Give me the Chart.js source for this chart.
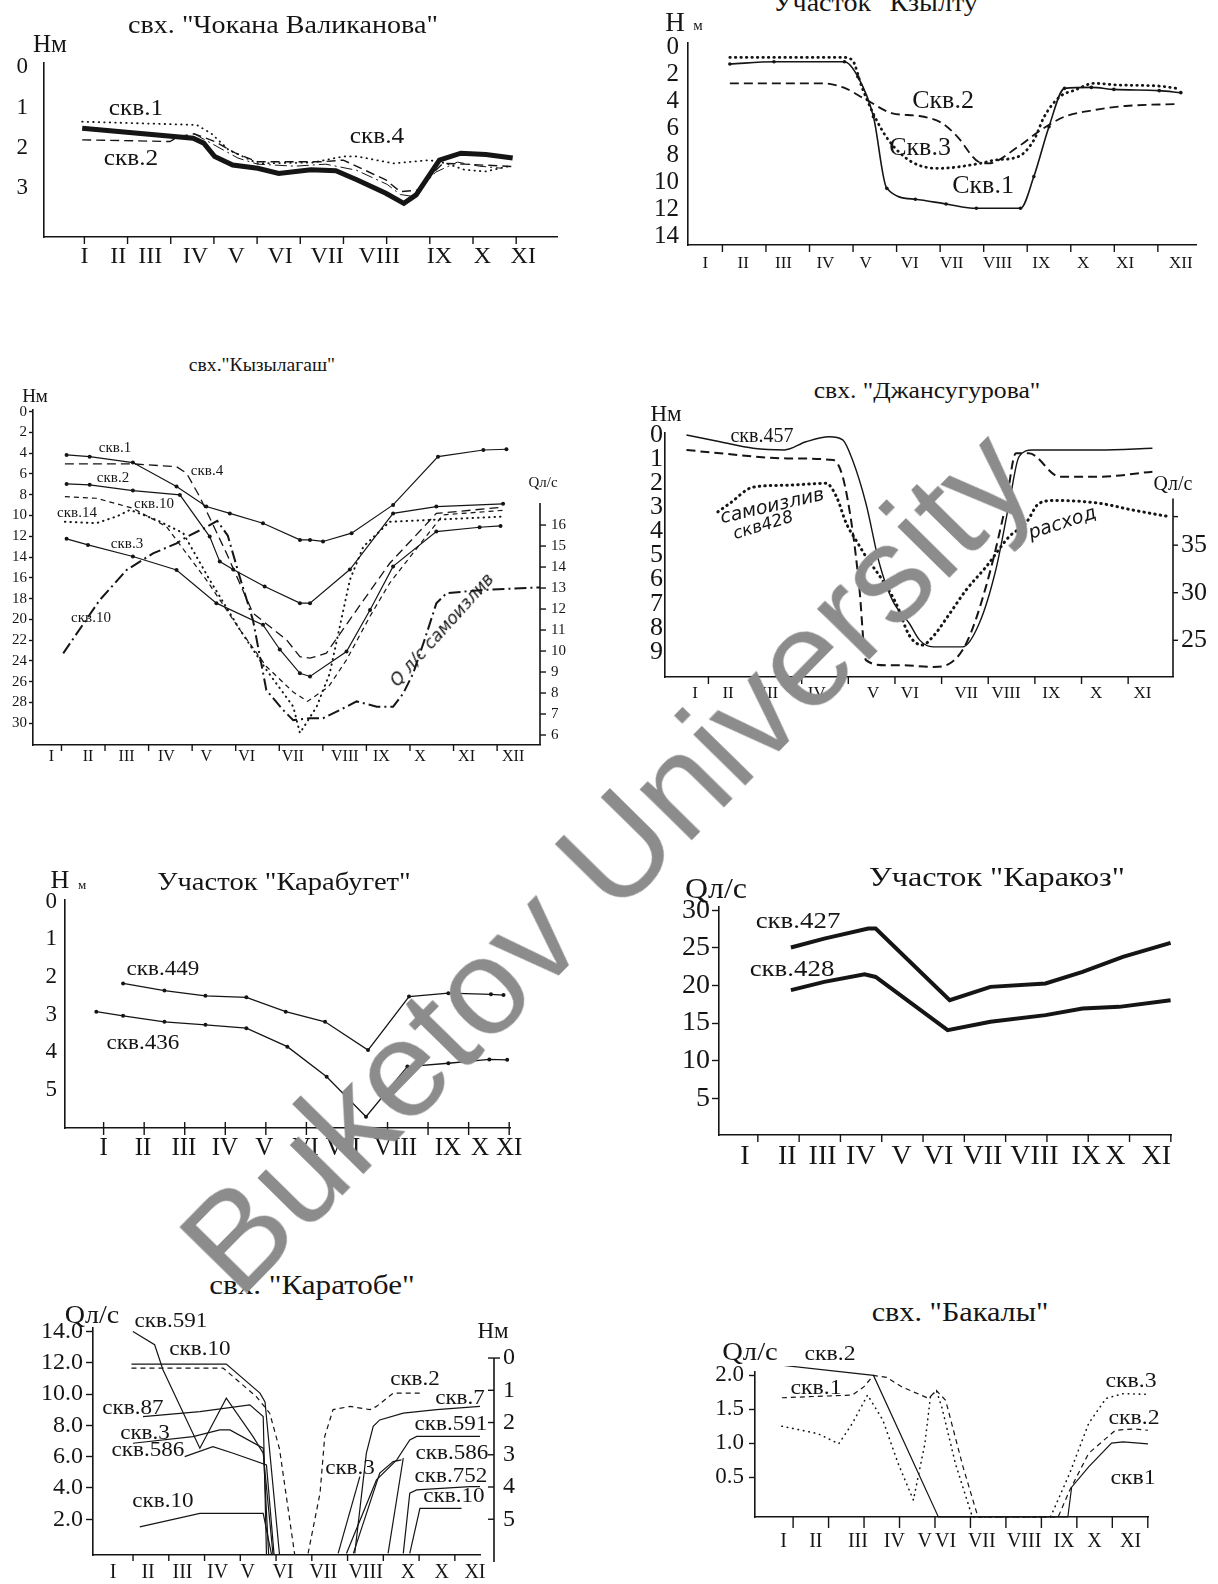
<!DOCTYPE html>
<html><head><meta charset="utf-8">
<script src="https://cdn.jsdelivr.net/npm/chart.js@4"></script>
<style>
html,body{margin:0;padding:0;background:#fff;}
#page{position:relative;width:1218px;height:1584px;overflow:hidden;font-family:"Liberation Serif","Times New Roman",serif;color:#151515;background:#fff;}
canvas{position:absolute;}
.t{position:absolute;white-space:nowrap;line-height:1;}
</style></head>
<body><div id="page"></div>
<script>
// ---------------- DATA ----------------
// Panel 1: свх. "Чокана Валиканова" (depth H, m)
const p1Months = ['I','II','III','IV','V','VI','VII','VIII','IX','X','XI'];
const p1YTicks = [0,1,2,3];
const p1ThickX = [0.95,3.48,3.72,3.97,4.38,4.95,5.43,6.16,6.73,7.22,7.87,8.28,8.56,9.09,9.58,10.15,10.76];
const p1ThickY = [1.51,1.76,1.88,2.21,2.42,2.5,2.63,2.54,2.56,2.79,3.12,3.37,3.16,2.3,2.13,2.16,2.25];
const p1Skv1X = [0.95,3.56,3.89,4.29,4.95,6.2,6.9,7.22,8.04,8.85,9.25,9.66,10.15,10.64];
const p1Skv1Y = [1.35,1.43,1.64,2.05,2.38,2.36,2.21,2.21,2.38,2.3,2.38,2.54,2.58,2.46];
const p1Skv2X = [0.95,2.95,3.15,3.5,3.97,4.45,4.95,6.41,6.9,7.22,7.87,8.2,8.6,8.93,9.17,9.66,10.8];
const p1Skv2Y = [1.8,1.84,1.72,1.65,1.84,2.13,2.34,2.34,2.3,2.46,2.79,3.08,3.04,2.63,2.38,2.4,2.46];
const p1Skv4X = [3.5,4.0,4.5,4.95,5.8,6.5,7.2,7.9,8.2,8.5,9.0,9.5,10.0,10.5];
const p1Skv4Y = [1.65,1.95,2.25,2.4,2.45,2.4,2.55,2.9,3.15,3.2,2.6,2.35,2.45,2.5];

// Panel 2: Участок "Кзылту"
const p2Months = ['I','II','III','IV','V','VI','VII','VIII','IX','X','XI','XII'];
const p2YTicks = [0,2,4,6,8,10,12,14];
const p2Skv1X = [1.57,2.59,4.22,4.53,4.89,5.2,5.86,6.57,7.27,8.29,8.6,8.95,9.31,9.93,10.45,11.5,12.0];
const p2Skv1Y = [1.26,1.09,1.09,2.2,5.16,10.47,11.28,11.63,11.95,11.95,9.6,5.9,3.06,2.99,3.14,3.23,3.38];
const p2Skv3X = [1.57,4.19,4.4,4.62,4.89,5.24,5.77,6.39,7.36,7.71,8.24,8.6,8.84,9.2,9.55,9.99,10.53,11.5,11.9];
const p2Skv3Y = [0.77,0.77,0.96,2.94,4.96,6.9,8.5,8.99,8.62,8.37,8.12,6.9,5.16,3.68,3.19,2.69,2.81,2.89,3.06];
const p2Skv2X = [1.57,3.74,4.19,4.71,5.33,5.95,6.48,6.83,7.32,7.54,8.24,8.76,9.31,9.99,10.72,11.9];
const p2Skv2Y = [2.69,2.69,2.99,3.88,4.91,5.11,5.65,6.64,8.5,8.62,7.38,6.15,5.16,4.67,4.37,4.22];

// Panel 3: свх. "Кызылагаш"
const p3Months = ['I','II','III','IV','V','VI','VII','VIII','IX','X','XI','XII'];
const p3YTicks = [0,2,4,6,8,10,12,14,16,18,20,22,24,26,28,30];
const p3QTicks = [6,7,8,9,10,11,12,13,14,15,16];
const p3Skv1X = [1.36,1.91,2.94,3.98,4.69,5.25,6.04,6.92,7.16,7.47,8.15,9.14,10.21,11.29,11.84];
const p3Skv1Y = [4.17,4.33,4.9,7.2,9.14,9.8,10.74,12.35,12.35,12.5,11.7,8.98,4.33,3.69,3.62];
const p3Skv2X = [1.36,1.91,2.94,4.06,4.77,5.01,5.33,6.08,6.92,7.16,8.11,9.14,10.17,11.76];
const p3Skv2Y = [6.96,7.05,7.6,8.02,12.03,14.44,15.2,16.84,18.44,18.44,15.2,9.8,9.14,8.88];
const p3Skv3X = [1.36,1.87,2.94,3.98,4.93,6.04,6.44,6.92,7.16,8.03,8.59,9.14,10.17,11.2,11.7];
const p3Skv3Y = [12.25,12.83,13.95,15.24,18.44,20.53,22.9,25.2,25.5,23.1,19.1,14.9,11.55,11.13,11.0];
const p3Skv4X = [1.32,2.94,3.98,4.22,4.53,5.17,5.8,6.6,6.92,7.16,7.55,8.27,9.06,10.17,11.76];
const p3Skv4Y = [5.03,5.03,5.3,5.93,8.18,13.63,19.4,21.97,23.6,23.74,23.26,19.1,14.6,9.8,9.2];
const p3Skv10X = [1.32,2.07,2.94,3.74,4.69,5.49,6.12,6.76,7.1,7.6,8.03,8.59,9.06,9.86,10.33,11.76];
const p3Skv10Y = [8.18,8.34,9.3,11.07,16.2,21.0,24.54,27.0,27.9,26.5,23.9,19.7,16.5,12.35,9.94,9.5];
const p3Skv14X = [1.32,2.07,2.55,2.87,3.5,4.14,4.77,5.49,6.12,6.76,6.92,7.32,7.63,7.87,8.11,8.43,9.06,10.01,11.76];
const p3Skv14Y = [10.6,10.74,10.1,9.46,10.42,11.7,16.2,21,24.86,28.4,30.95,28.4,25.2,20.7,16.2,13,10.6,10.42,10.1];
const p3QX = [1.28,2.15,2.79,3.42,3.98,4.22,4.69,4.95,5.2,5.49,5.8,6.12,6.52,6.76,7.16,7.47,8.03,8.27,8.75,9.14,9.38,9.62,9.94,10.17,10.41,11.2,12.64];
const p3QY = [9.89,12.43,13.86,14.65,15.13,15.44,15.9,16.2,15.5,13.5,11.48,8.14,7.19,6.71,6.8,6.8,7.35,7.6,7.35,7.35,7.98,8.94,10.84,12.27,12.75,12.9,13.03];

// Panel 4: свх. "Джансугурова"
const p4Months = ['I','II','III','IV','V','VI','VII','VIII','IX','X','XI'];
const p4YTicks = [0,1,2,3,4,5,6,7,8,9];
const p4QTicks = [25,30,35,38];
const p4Skv457X = [0.81,1.56,2.3,3.0,3.48,4.0,4.3,4.52,4.82,5.12,5.41,5.79,6.02,6.32,6.98,7.35,7.72,8.02,8.24,8.54,10.03,11.22];
const p4Skv457Y = [0,0.28,0.55,0.62,0.28,0.07,0.2,1.04,2.84,5.33,6.85,7.82,8.51,8.79,8.79,7.82,5.6,2.84,0.9,0.62,0.62,0.55];
const p4DashX = [0.81,1.56,3.05,4.09,4.3,4.52,4.67,4.82,5.27,5.58,6.32,6.69,7.06,7.5,7.95,8.17,8.46,9.15,10.04,11.22];
const p4DashY = [0.62,0.76,0.97,1.04,1.73,3.95,6.3,9.34,9.55,9.55,9.62,9.48,8.65,6.3,2.84,0.76,0.76,1.73,1.73,1.52];
const p4FlowX = [1.51,1.78,2.3,3.05,3.93,4.16,4.38,4.6,4.82,5.19,5.49,5.79,6.08,6.31,6.69,7.06,7.5,8.02,8.39,8.69,9.06,10.04,10.77,11.59];
const p4FlowY = [38.5,39.4,41.1,41.3,41.5,40.1,37.3,35.5,33.8,31.3,28.9,25.5,24.5,25.35,27.8,30.3,32.7,35.9,37.3,39.4,39.7,39.4,38.7,38.0];

// Panel 5: Участок "Карабугет"
const p5Months = ['I','II','III','IV','V','VI','VII','VIII','IX','X','XI'];
const p5YTicks = [0,1,2,3,4,5];
const p5Skv449X = [1.48,2.5,3.51,4.52,5.49,6.46,7.52,8.53,9.5,10.55,10.86];
const p5Skv449Y = [2.17,2.36,2.5,2.54,2.92,3.19,3.94,2.52,2.43,2.46,2.48];
const p5Skv436X = [0.82,1.48,2.5,3.51,4.52,5.53,6.5,7.47,8.49,9.5,10.51,10.95];
const p5Skv436Y = [2.92,3.03,3.19,3.27,3.36,3.85,4.65,5.71,4.38,4.29,4.19,4.2];

// Panel 6: Участок "Каракоз" (Q, л/с)
const p6Months = ['I','II','III','IV','V','VI','VII','VIII','IX','X','XI'];
const p6YTicks = [5,10,15,20,25,30];
const p6Skv427X = [2.12,2.93,4.0,4.18,5.98,6.97,8.31,9.21,10.19,11.35];
const p6Skv427Y = [25.05,26.24,27.57,27.57,18.05,19.82,20.27,21.8,23.8,25.66];
const p6Skv428X = [2.12,2.93,3.91,4.18,5.93,6.97,8.31,9.21,10.1,11.35];
const p6Skv428Y = [19.38,20.48,21.5,21.14,14.06,15.17,16.06,16.94,17.16,18.05];

// Panel 7: свх. "Каратобе" (Q left, H right)
const p7Months = ['I','II','III','IV','V','VI','VII','VIII','X','X','XI'];
const p7QTicks = [2,4,6,8,10,12,14];
const p7HTicks = [0,1,2,3,4,5];
const p7Q591X = [1.55,2.15,2.38,3.4,4.13,4.87,5.15,5.42];
const p7Q591Y = [14.0,13.15,11.55,6.54,9.74,7.28,6.22,-0.25];
const p7Q10aX = [1.51,4.13,5.06,5.2,5.6];
const p7Q10aY = [11.91,11.91,10.06,9.5,-0.25];
const p7Q10bX = [1.51,4.04,4.96,5.33,5.6,6.02];
const p7Q10bY = [11.66,11.66,9.84,8.78,6.5,-0.25];
const p7Q87X = [1.83,3.4,4.78,5.15,5.24];
const p7Q87Y = [8.56,8.88,9.31,8.56,-0.25];
const p7Q3X = [1.55,3.21,3.95,4.23,5.15,5.3];
const p7Q3Y = [6.86,7.28,7.71,7.71,6.54,-0.25];
const p7Q586X = [2.98,3.76,4.32,5.24,5.45];
const p7Q586Y = [6.0,6.64,6.22,5.47,-0.25];
const p7Q10cX = [1.74,3.4,5.15,5.38];
const p7Q10cY = [1.52,2.38,2.38,-0.25];
const p7H2X = [6.39,6.72,6.85,7.08,7.55,8.1,8.28,8.74,9.57];
const p7H2Y = [6.06,4.19,2.43,1.6,1.5,1.6,1.5,1.09,1.09];
const p7H7X = [7.68,8.0,8.19,8.37,9.02,9.94,11.14];
const p7H7Y = [6.06,2.95,2.12,1.92,1.71,1.6,1.5];
const p7H3X = [7.22,7.82];
const p7H3Y = [6.06,3.68];
const p7H591X = [7.45,8.28,8.84,9.2,9.39,11.14];
const p7H591Y = [6.06,3.78,3.16,2.54,2.43,2.43];
const p7H586X = [7.64,8.37,8.74,8.97];
const p7H586Y = [6.06,3.57,3.21,3.16];
const p7HxX = [8.6,9.02];
const p7HxY = [6.06,3.1];
const p7H752X = [9.02,9.2,9.39,10.86,11.14];
const p7H752Y = [6.06,4.19,4.09,3.99,3.99];
const p7H10X = [9.2,9.48,10.63];
const p7H10Y = [6.06,4.66,4.66];

// Panel 8: свх. "Бакалы" (Q, л/с)
const p8Months = ['I','II','III','IV','V','VI','VII','VIII','IX','X','XI'];
const p8YTicks = [0.5,1.0,1.5,2.0];
const p8SolidX = [0.95,3.59,5.46,9.19,9.3,9.79,10.45,10.78,11.5];
const p8SolidY = [2.15,2.0,-0.09,-0.09,0.35,0.65,1.0,1.02,0.99];
const p8DashX = [0.95,2.98,3.31,3.59,3.97,4.41,5.18,5.4,5.67,6.17,6.6,8.91,9.24,9.79,10.56,11.11,11.5];
const p8DashY = [1.67,1.71,1.83,2.0,1.97,1.83,1.66,1.78,1.63,0.65,-0.09,-0.09,0.3,0.85,1.19,1.21,1.19];
const p8DotX = [0.95,1.99,2.59,2.98,3.42,3.86,4.3,4.74,5.07,5.23,5.4,5.56,5.95,6.44,8.69,9.24,9.79,10.29,10.78,11.5];
const p8DotY = [1.25,1.14,0.99,1.29,1.71,1.34,0.7,0.16,0.99,1.68,1.78,1.53,0.7,-0.09,-0.09,0.55,1.29,1.66,1.73,1.72];

// ---------------- RENDERING ----------------
Chart.defaults.font.family = "'Liberation Serif','Times New Roman',serif";
Chart.defaults.color = '#151515';
Chart.defaults.animation = false;
const INK = '#151515';
const page = document.getElementById('page');

const STYLE = {
  solid:   {borderDash: []},
  dashed:  {borderDash: [9,5]},
  finedash:{borderDash: [5,4]},
  dotted:  {borderDash: [0.5,5], borderCapStyle: 'round'},
  dashdot: {borderDash: [12,4,2,4]}
};
const pts = (xs, ys) => xs.map((x, i) => ({x, y: ys[i]}));

function addText(t, x, y, size, o = {}) {
  const d = document.createElement('div');
  d.className = 't';
  d.textContent = t;
  d.style.left = x + 'px';
  d.style.top = y + 'px';
  d.style.fontSize = size + 'px';
  d.style.transform = 'translate(-50%,-50%)' + (o.rot ? ` rotate(${o.rot}deg)` : '') + (o.sx ? ` scaleX(${o.sx})` : '');
  if (o.italic) d.style.fontStyle = 'italic';
  if (o.family) d.style.fontFamily = o.family;
  if (o.color) d.style.color = o.color;
  if (o.z) d.style.zIndex = o.z;
  page.appendChild(d);
}

const noPad = s => { s.paddingTop = 0; s.paddingBottom = 0; s.paddingLeft = 0; s.paddingRight = 0; };

function makePanel(p) {
  const [L, T, R, B] = p.rect;
  const {ml, mt, mr, mb} = p.margin;
  const cv = document.createElement('canvas');
  const w = Math.round(R - L + ml + mr), h = Math.round(B - T + mt + mb);
  cv.width = w; cv.height = h;
  cv.style.left = (L - ml) + 'px';
  cv.style.top = (T - mt) + 'px';
  cv.style.width = w + 'px';
  cv.style.height = h + 'px';
  page.appendChild(cv);

  const scales = {
    x: {
      type: 'linear', position: 'bottom', min: p.x.min, max: p.x.max,
      afterBuildTicks: s => { s.ticks = p.x.labelAt.map(v => ({value: v})); },
      afterFit: s => { s.height = mb; noPad(s); },
      grid: {display: true, drawOnChartArea: false, drawTicks: false},
      border: {display: true, color: INK, width: 1.6},
      ticks: {autoSkip: false, maxRotation: 0, minRotation: 0, padding: p.x.pad, color: INK,
        font: {size: p.x.size}, callback: (v, i) => p.x.labels[i] ?? ''}
    },
    y: {
      type: 'linear', position: 'left', min: p.y.min, max: p.y.max, reverse: !!p.y.reverse,
      afterBuildTicks: s => { s.ticks = p.y.ticks.map(v => ({value: v})); },
      afterFit: s => { s.width = ml; noPad(s); },
      grid: {display: true, drawOnChartArea: false, drawTicks: !!p.y.tl, tickLength: p.y.tl || 0, color: INK, tickWidth: 1.4},
      border: {display: true, color: INK, width: 1.6},
      ticks: {autoSkip: false, padding: p.y.pad, color: INK, font: {size: p.y.size},
        callback: v => p.y.fmt ? p.y.fmt(v) : String(v)}
    }
  };
  if (p.y2) {
    scales.y2 = {
      type: 'linear', position: 'right', min: p.y2.min, max: p.y2.max, reverse: !!p.y2.reverse,
      afterBuildTicks: s => { s.ticks = p.y2.ticks.map(v => ({value: v})); },
      afterFit: s => { s.width = mr; noPad(s); },
      grid: {display: true, drawOnChartArea: false, drawTicks: false},
      border: {display: false},
      ticks: {autoSkip: false, padding: p.y2.pad, color: INK, font: {size: p.y2.size},
        callback: v => p.y2.fmt ? p.y2.fmt(v) : String(v)}
    };
  }

  const deco = {
    id: 'deco',
    afterDraw(chart) {
      const ctx = chart.ctx, ca = chart.chartArea, xs = chart.scales.x;
      ctx.save();
      ctx.strokeStyle = INK; ctx.lineWidth = 1.4;
      for (let i = 0; i < p.x.tickCount; i++) {
        const px = xs.getPixelForValue(p.x.tick0 + i * p.x.tickStep);
        ctx.beginPath();
        ctx.moveTo(px, ca.bottom - (p.x.up || 0));
        ctx.lineTo(px, ca.bottom + p.x.tickLen);
        ctx.stroke();
      }
      if (p.y2) {
        const s = chart.scales.y2, o = p.y2.line;
        const x0 = ca.right + (o.offset || 0);
        const yTop = s.getPixelForValue(o.from);
        ctx.lineWidth = 1.6;
        ctx.beginPath(); ctx.moveTo(x0, yTop); ctx.lineTo(x0, ca.bottom + (o.extend || 0)); ctx.stroke();
        ctx.lineWidth = 1.4;
        p.y2.ticks.forEach(v => {
          const py = s.getPixelForValue(v);
          ctx.beginPath(); ctx.moveTo(x0, py); ctx.lineTo(x0 + o.tl, py); ctx.stroke();
        });
        if (o.cap) { ctx.beginPath(); ctx.moveTo(x0, yTop); ctx.lineTo(x0 + o.cap, yTop); ctx.stroke(); }
      }
      ctx.restore();
    }
  };

  new Chart(cv, {
    type: 'line',
    data: {
      datasets: p.series.map(s => Object.assign({
        data: pts(s.x, s.y), yAxisID: s.axis || 'y',
        borderColor: INK, borderWidth: s.w || 1.3,
        pointRadius: s.pr || 0, pointBackgroundColor: INK, pointBorderWidth: 0,
        tension: s.smooth ? 0.4 : 0, cubicInterpolationMode: s.smooth ? 'monotone' : 'default',
        fill: false, clip: 6
      }, STYLE[s.style || 'solid']))
    },
    options: {
      responsive: false, animation: false, events: [],
      layout: {padding: {top: mt, left: 0, bottom: 0, right: p.y2 ? 0 : mr}},
      plugins: {legend: {display: false}, tooltip: {enabled: false}},
      scales
    },
    plugins: [deco]
  });
}

// ---- Panel 1
makePanel({
  rect: [43.6, 63, 557, 237], margin: {ml: 43, mt: 25, mr: 25, mb: 40},
  x: {min: 0.08, max: 11.77, labels: p1Months, labelAt: [1,1.77,2.5,3.53,4.46,5.46,6.53,7.72,9.09,10.07,11.0],
      size: 24, pad: 5, tick0: 1, tickStep: 0.984, tickCount: 11, tickLen: 7},
  y: {min: -0.1, max: 4.2, reverse: true, ticks: p1YTicks, size: 23, pad: 16},
  series: [
    {x: p1ThickX, y: p1ThickY, w: 5},
    {x: p1Skv1X, y: p1Skv1Y, style: 'dotted', w: 1.8},
    {x: p1Skv2X, y: p1Skv2Y, style: 'dashed', w: 1.4},
    {x: p1Skv4X, y: p1Skv4Y, style: 'dashdot', w: 1.0}
  ]
});
addText('свх. "Чокана Валиканова"', 283, 25, 26, {sx: 1.08});
addText('Нм', 50, 43, 25);
addText('скв.1', 136, 107, 23, {sx: 1.1});
addText('скв.2', 131, 157, 23, {sx: 1.1});
addText('скв.4', 377, 135, 23, {sx: 1.1});

// ---- Panel 2
makePanel({
  rect: [688.4, 43, 1196, 245], margin: {ml: 60, mt: 25, mr: 20, mb: 35},
  x: {min: 0.602, max: 12.35, labels: p2Months, labelAt: [1,1.88,2.81,3.78,4.71,5.73,6.7,7.76,8.77,9.74,10.71,12.0],
      size: 17, pad: 8, tick0: 1.398, tickStep: 1.007, tickCount: 11, tickLen: 7},
  y: {min: -0.3, max: 14.67, reverse: true, ticks: p2YTicks, size: 25, pad: 9},
  series: [
    {x: p2Skv1X, y: p2Skv1Y, w: 1.6, pr: 1.8, smooth: true},
    {x: p2Skv3X, y: p2Skv3Y, style: 'dotted', w: 2.8, smooth: true},
    {x: p2Skv2X, y: p2Skv2Y, style: 'dashed', w: 1.8, smooth: true}
  ]
});
addText('Участок "Кзылту"', 881, 3, 26, {sx: 1.08});
addText('Н', 675, 22, 27);
addText('м', 698, 25, 15);
addText('Скв.2', 943, 100, 26);
addText('Скв.3', 920, 147, 26);
addText('Скв.1', 983, 185, 26);

// ---- Panel 3
makePanel({
  rect: [33.3, 410, 540, 745], margin: {ml: 33, mt: 25, mr: 40, mb: 30},
  x: {min: 0.56, max: 12.64, labels: p3Months, labelAt: [1,1.87,2.79,3.74,4.69,5.65,6.75,7.99,8.86,9.78,10.89,12.0],
      size: 16, pad: 2, tick0: 1.238, tickStep: 1.038, tickCount: 11, tickLen: 6},
  y: {min: -0.16, max: 32.1, reverse: true, ticks: p3YTicks, size: 15, pad: 2, tl: 4},
  y2: {min: 5.524, max: 21.48, ticks: p3QTicks, size: 15, pad: 11, line: {from: 17.05, tl: 6}},
  series: [
    {x: p3Skv1X, y: p3Skv1Y, w: 1.2, pr: 2},
    {x: p3Skv2X, y: p3Skv2Y, w: 1.2, pr: 2},
    {x: p3Skv3X, y: p3Skv3Y, w: 1.2, pr: 2},
    {x: p3Skv4X, y: p3Skv4Y, style: 'dashed', w: 1.3},
    {x: p3Skv10X, y: p3Skv10Y, style: 'finedash', w: 1.2},
    {x: p3Skv14X, y: p3Skv14Y, style: 'dotted', w: 2},
    {x: p3QX, y: p3QY, axis: 'y2', style: 'dashdot', w: 2}
  ]
});
addText('свх."Кызылагаш"', 262, 365, 18, {sx: 1.09});
addText('Нм', 35, 395, 19);
addText('Qл/с', 543, 482, 15);
addText('скв.1', 115, 447, 15);
addText('скв.2', 113, 477, 15);
addText('скв.4', 207, 470, 15);
addText('скв.10', 154, 503, 15);
addText('скв.14', 77, 512, 15);
addText('скв.3', 127, 543, 15);
addText('скв.10', 91, 617, 15);
addText('Q л/с  самоизлив', 442, 630, 17, {italic: true, rot: -48, family: "'DejaVu Sans',sans-serif"});

// ---- Panel 4
makePanel({
  rect: [665, 433, 1173.3, 676.7], margin: {ml: 45, mt: 25, mr: 44, mb: 35},
  x: {min: 0.33, max: 11.68, labels: p4Months, labelAt: [1,1.74,2.67,3.72,4.98,5.8,7.06,7.95,8.96,9.96,11.0],
      size: 17, pad: 6, tick0: 1.3, tickStep: 1.042, tickCount: 10, tickLen: 7},
  y: {min: -0.083, max: 10.04, reverse: true, ticks: p4YTicks, size: 26, pad: 2},
  y2: {min: 21.14, max: 46.79, ticks: p4QTicks, size: 26, pad: 8, fmt: v => v === 38 ? '' : String(v), line: {from: 39.9, tl: 5}},
  series: [
    {x: p4Skv457X, y: p4Skv457Y, w: 1.4, smooth: true},
    {x: p4DashX, y: p4DashY, style: 'dashed', w: 2, smooth: true},
    {x: p4FlowX, y: p4FlowY, axis: 'y2', style: 'dotted', w: 3, smooth: true}
  ]
});
addText('свх. "Джансугурова"', 927, 390, 24, {sx: 1.07});
addText('Нм', 666, 413, 23);
addText('Qл/с', 1173, 483, 20);
addText('скв.457', 762, 435, 20);
addText('самоизлив', 772, 505, 19, {italic: true, rot: -13, family: "'DejaVu Sans',sans-serif"});
addText('скв428', 763, 525, 17, {italic: true, rot: -17, family: "'DejaVu Sans',sans-serif"});
addText('расход', 1062, 522, 19, {italic: true, rot: -18, family: "'DejaVu Sans',sans-serif"});

// ---- Panel 5
makePanel({
  rect: [65, 900, 509.9, 1128.3], margin: {ml: 64, mt: 25, mr: 30, mb: 40},
  x: {min: 0.048, max: 11.02, labels: p5Months, labelAt: [1,1.97,2.98,3.99,4.96,5.98,6.9,8.2,9.49,10.28,11.0],
      size: 25, pad: 5, tick0: 1, tickStep: 1, tickCount: 11, tickLen: 7, up: 6},
  y: {min: -0.045, max: 6.01, reverse: true, ticks: p5YTicks, size: 23, pad: 8},
  series: [
    {x: p5Skv449X, y: p5Skv449Y, w: 1.3, pr: 2},
    {x: p5Skv436X, y: p5Skv436Y, w: 1.3, pr: 2}
  ]
});
addText('Участок "Карабугет"', 284, 882, 26, {sx: 1.1});
addText('Н', 60, 880, 26);
addText('м', 82, 884, 13);
addText('скв.449', 163, 968, 22, {sx: 1.05});
addText('скв.436', 143, 1042, 22, {sx: 1.05});

// ---- Panel 6
makePanel({
  rect: [719.2, 906.7, 1170.8, 1135], margin: {ml: 78, mt: 25, mr: 30, mb: 45},
  x: {min: 0.372, max: 11.36, labels: p6Months, labelAt: [1,2.03,2.89,3.82,4.81,5.71,6.79,8.04,9.3,10.01,11.0],
      size: 28, pad: 5, tick0: 1.316, tickStep: 1.004, tickCount: 11, tickLen: 7},
  y: {min: 0.12, max: 30.44, ticks: p6YTicks, size: 28, pad: 2, tl: 7},
  series: [
    {x: p6Skv427X, y: p6Skv427Y, w: 4},
    {x: p6Skv428X, y: p6Skv428Y, w: 4}
  ]
});
addText('Участок "Каракоз"', 997, 877, 28, {sx: 1.15});
addText('Qл/с', 716, 888, 29, {sx: 1.1});
addText('скв.427', 798, 920, 24, {sx: 1.12});
addText('скв.428', 792, 968, 24, {sx: 1.12});

// ---- Panel 7
makePanel({
  rect: [93.3, 1328.3, 480, 1555], margin: {ml: 93, mt: 25, mr: 50, mb: 28},
  x: {min: 0.447, max: 11.14, labels: p7Months, labelAt: [1,1.97,2.92,3.89,4.72,5.7,6.81,7.98,9.15,10.08,11.0],
      size: 20, pad: 6, tick0: 1.553, tickStep: 0.988, tickCount: 10, tickLen: 6},
  y: {min: -0.28, max: 14.22, ticks: p7QTicks, size: 24, pad: 3, tl: 7, fmt: v => v.toFixed(1)},
  y2: {min: -0.932, max: 6.109, reverse: true, ticks: p7HTicks, size: 24, pad: 23, line: {offset: 14, from: 0, extend: 7, tl: -6, cap: 6}},
  series: [
    {x: p7Q591X, y: p7Q591Y, w: 1.2},
    {x: p7Q10aX, y: p7Q10aY, w: 1.2},
    {x: p7Q10bX, y: p7Q10bY, style: 'finedash', w: 1.2},
    {x: p7Q87X, y: p7Q87Y, w: 1.2},
    {x: p7Q3X, y: p7Q3Y, w: 1.2},
    {x: p7Q586X, y: p7Q586Y, w: 1.2},
    {x: p7Q10cX, y: p7Q10cY, w: 1.2},
    {x: p7H2X, y: p7H2Y, axis: 'y2', style: 'finedash', w: 1.2},
    {x: p7H7X, y: p7H7Y, axis: 'y2', w: 1.2},
    {x: p7H3X, y: p7H3Y, axis: 'y2', w: 1.2},
    {x: p7H591X, y: p7H591Y, axis: 'y2', w: 1.2},
    {x: p7H586X, y: p7H586Y, axis: 'y2', w: 1.2},
    {x: p7HxX, y: p7HxY, axis: 'y2', w: 1.2},
    {x: p7H752X, y: p7H752Y, axis: 'y2', w: 1.2},
    {x: p7H10X, y: p7H10Y, axis: 'y2', w: 1.2}
  ]
});
addText('свх. "Каратобе"', 312, 1285, 28, {sx: 1.11});
addText('Qл/с', 92, 1315, 26, {sx: 1.08});
addText('Нм', 493, 1330, 23);
addText('скв.591', 171, 1320, 21, {sx: 1.1});
addText('скв.10', 200, 1348, 21, {sx: 1.1});
addText('скв.87', 133, 1407, 21, {sx: 1.1});
addText('скв.3', 145, 1432, 21, {sx: 1.1});
addText('скв.586', 148, 1449, 21, {sx: 1.1});
addText('скв.10', 163, 1500, 21, {sx: 1.1});
addText('скв.2', 415, 1378, 21, {sx: 1.1});
addText('скв.7', 460, 1397, 21, {sx: 1.1});
addText('скв.591', 451, 1423, 21, {sx: 1.1});
addText('скв.586', 452, 1452, 21, {sx: 1.1});
addText('скв.3', 350, 1467, 21, {sx: 1.1});
addText('скв.752', 451, 1475, 21, {sx: 1.1});
addText('скв.10', 454, 1495, 21, {sx: 1.1});

// ---- Panel 8
makePanel({
  rect: [755.4, 1371.7, 1148.2, 1516.7], margin: {ml: 75, mt: 25, mr: 30, mb: 45},
  x: {min: 0.176, max: 11.5, labels: p8Months, labelAt: [1,1.93,3.14,4.19,5.07,5.67,6.71,7.93,9.08,9.96,11.0],
      size: 20, pad: 13, tick0: 1.274, tickStep: 1.022, tickCount: 11, tickLen: 11},
  y: {min: -0.09, max: 2.05, ticks: p8YTicks, size: 23, pad: 5, tl: 6, fmt: v => v.toFixed(1)},
  series: [
    {x: p8SolidX, y: p8SolidY, w: 1.2},
    {x: p8DashX, y: p8DashY, style: 'finedash', w: 1.2},
    {x: p8DotX, y: p8DotY, style: 'dotted', w: 1.6}
  ]
});
addText('свх. "Бакалы"', 960, 1312, 27, {sx: 1.12});
addText('Qл/с', 750, 1352, 26, {sx: 1.1});
addText('скв.2', 830, 1353, 22, {sx: 1.08});
addText('скв.1', 816, 1387, 22, {sx: 1.08});
addText('скв.3', 1131, 1380, 22, {sx: 1.08});
addText('скв.2', 1134, 1417, 22, {sx: 1.08});
addText('скв1', 1133, 1477, 22, {sx: 1.08});

// ---- Watermark
addText('Buketov University', 605, 860, 138, {rot: -45.5, family: "'Liberation Sans',Arial,sans-serif", color: '#8c8c8c', z: 5});
</script>
</body></html>
